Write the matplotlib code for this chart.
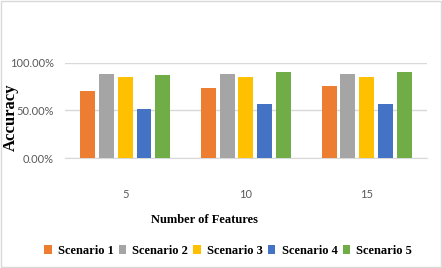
import numpy as np
import matplotlib.pyplot as plt
from matplotlib.ticker import PercentFormatter

# Data
features = ['5', '10', '15']
scenario_names = ['Scenario 1', 'Scenario 2', 'Scenario 3', 'Scenario 4', 'Scenario 5']
scenario_1 = [70, 74, 76]
scenario_2 = [88, 88, 88]
scenario_3 = [85, 85, 85]
scenario_4 = [51, 57, 57]
scenario_5 = [87, 90, 90]
colors = ['#ED7D31', '#A5A5A5', '#FFC000', '#4472C4', '#70AD47']

series = [scenario_1, scenario_2, scenario_3, scenario_4, scenario_5]

fig = plt.figure(figsize=(4.42, 2.68), dpi=100)
ax = fig.add_axes([0.147, 0.41, 0.819, 0.356])

x = np.arange(len(features))
width = 0.124
step = 0.155
for i, vals in enumerate(series):
    ax.bar(x + (i - 2) * step, vals, width, color=colors[i], label=scenario_names[i], zorder=3)

ax.set_xlim(-0.5, 2.5)
ax.set_ylim(0, 100)
ax.set_yticks([0, 50, 100])
ax.yaxis.set_major_formatter(PercentFormatter(decimals=2))
ax.set_xticks(x)
ax.set_xticklabels(features)
ax.grid(axis='y', color='#D9D9D9', linewidth=1, zorder=0)
ax.set_axisbelow(True)
for s in ['top', 'right', 'left']:
    ax.spines[s].set_visible(False)
ax.spines['bottom'].set_color('#D9D9D9')
ax.tick_params(axis='both', length=0, labelsize=8, labelcolor='#595959')
ax.tick_params(axis='x', pad=22)
ax.tick_params(axis='y', pad=8)
for lab in ax.get_yticklabels() + ax.get_xticklabels():
    lab.set_family('Lato')

# y axis title
fig.text(11 / 442, 1 - 117 / 268, 'Accuracy', family='Liberation Serif', fontweight='bold',
         fontsize=12, rotation=90, ha='center', va='center')
fig.text(0.462, 1 - 220 / 268, 'Number of Features', family='Liberation Serif',
         fontweight='bold', fontsize=9, ha='center', va='center')

leg = fig.legend(loc='center', bbox_to_anchor=(0.516, 1 - 251 / 268), ncol=5, frameon=False,
                 prop={'family': 'Liberation Serif', 'weight': 'bold', 'size': 9},
                 handlelength=0.6, handleheight=0.7, handletextpad=0.5, columnspacing=0.4)

# light border around the whole chart
fig.patches.append(plt.Rectangle((0.002, 0.004), 0.995, 0.992, transform=fig.transFigure,
                                 fill=False, edgecolor='#D9D9D9', linewidth=1))

fig.savefig('out.png', dpi=100)
